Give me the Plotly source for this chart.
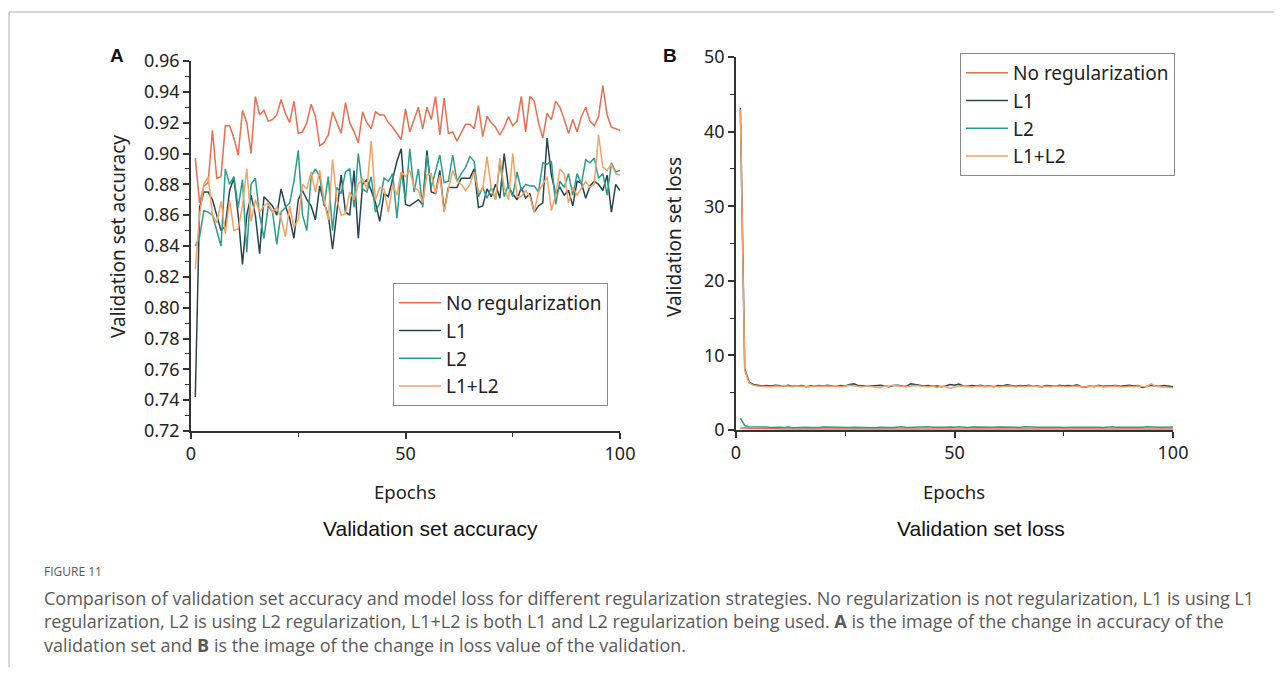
import plotly.graph_objects as go

# page body adds an 8px margin, so the figure is drawn 16px smaller than the window
PAGE_W, PAGE_H = 1282, 675
OFFSET = 8
W, H = PAGE_W - 2 * OFFSET, PAGE_H - 2 * OFFSET

COLORS = {
    'No regularization': '#E76F51',
    'L1': '#264653',
    'L2': '#2A9D8F',
    'L1+L2': '#F4A261',
}

epochs = list(range(1, 101))

acc_no_reg = [
    0.897, 0.868, 0.879, 0.881, 0.915, 0.884, 0.885, 0.918, 0.918, 0.910,
    0.899, 0.928, 0.920, 0.900, 0.937, 0.925, 0.928, 0.921, 0.922, 0.925,
    0.935, 0.926, 0.920, 0.934, 0.913, 0.914, 0.920, 0.932, 0.924, 0.905,
    0.907, 0.912, 0.927, 0.920, 0.913, 0.933, 0.920, 0.914, 0.907, 0.927,
    0.920, 0.916, 0.927, 0.925, 0.925, 0.920, 0.917, 0.913, 0.909, 0.929,
    0.914, 0.922, 0.930, 0.916, 0.930, 0.922, 0.937, 0.912, 0.936, 0.913,
    0.914, 0.908, 0.913, 0.919, 0.919, 0.916, 0.931, 0.911, 0.924, 0.920,
    0.917, 0.912, 0.917, 0.924, 0.918, 0.921, 0.937, 0.914, 0.937, 0.934,
    0.920, 0.910, 0.926, 0.922, 0.934, 0.930, 0.922, 0.913, 0.922, 0.914,
    0.924, 0.930, 0.921, 0.918, 0.924, 0.944, 0.925, 0.917, 0.916, 0.915,
]
acc_l1 = [
    0.742, 0.865, 0.875, 0.875, 0.870, 0.860, 0.850, 0.853, 0.876, 0.884,
    0.860, 0.828, 0.860, 0.873, 0.860, 0.835, 0.872, 0.869, 0.866, 0.860,
    0.877, 0.866, 0.858, 0.845, 0.870, 0.876, 0.870, 0.866, 0.857, 0.879,
    0.868, 0.860, 0.838, 0.862, 0.886, 0.862, 0.860, 0.889, 0.845, 0.880,
    0.883, 0.876, 0.868, 0.856, 0.874, 0.872, 0.884, 0.895, 0.903, 0.867,
    0.866, 0.868, 0.870, 0.867, 0.902, 0.875, 0.874, 0.889, 0.863, 0.878,
    0.878, 0.878, 0.884, 0.884, 0.884, 0.890, 0.865, 0.866, 0.877, 0.872,
    0.880, 0.871, 0.900, 0.878, 0.874, 0.870, 0.878, 0.871, 0.874, 0.862,
    0.866, 0.868, 0.910, 0.886, 0.874, 0.878, 0.873, 0.876, 0.866, 0.882,
    0.881, 0.871, 0.879, 0.882, 0.880, 0.876, 0.886, 0.862, 0.880, 0.876,
]
acc_l2 = [
    0.840, 0.846, 0.863, 0.862, 0.860, 0.850, 0.840, 0.890, 0.880, 0.885,
    0.865, 0.883, 0.836, 0.880, 0.884, 0.860, 0.845, 0.866, 0.862, 0.841,
    0.862, 0.865, 0.868, 0.882, 0.902, 0.860, 0.850, 0.885, 0.890, 0.885,
    0.866, 0.885, 0.850, 0.878, 0.874, 0.888, 0.890, 0.865, 0.900, 0.877,
    0.875, 0.885, 0.862, 0.868, 0.884, 0.882, 0.887, 0.858, 0.888, 0.870,
    0.903, 0.875, 0.890, 0.865, 0.899, 0.878, 0.888, 0.899, 0.881, 0.882,
    0.899, 0.882, 0.887, 0.891, 0.898, 0.895, 0.872, 0.878, 0.871, 0.878,
    0.870, 0.895, 0.872, 0.880, 0.872, 0.888, 0.876, 0.880, 0.879, 0.879,
    0.875, 0.894, 0.893, 0.895, 0.867, 0.882, 0.878, 0.887, 0.873, 0.887,
    0.880, 0.896, 0.894, 0.897, 0.884, 0.887, 0.873, 0.894, 0.888, 0.889,
]
acc_l1l2 = [
    0.825, 0.860, 0.880, 0.885, 0.860, 0.855, 0.869, 0.848, 0.870, 0.850,
    0.851, 0.866, 0.890, 0.856, 0.870, 0.862, 0.866, 0.868, 0.862, 0.865,
    0.858, 0.846, 0.866, 0.852, 0.857, 0.880, 0.877, 0.888, 0.875, 0.889,
    0.870, 0.857, 0.896, 0.870, 0.860, 0.861, 0.875, 0.870, 0.880, 0.884,
    0.877, 0.908, 0.870, 0.878, 0.877, 0.862, 0.880, 0.873, 0.888, 0.885,
    0.889, 0.878, 0.876, 0.868, 0.886, 0.887, 0.874, 0.886, 0.862, 0.877,
    0.889, 0.882, 0.880, 0.876, 0.880, 0.888, 0.875, 0.877, 0.898, 0.877,
    0.870, 0.897, 0.878, 0.870, 0.900, 0.872, 0.872, 0.876, 0.872, 0.862,
    0.875, 0.880, 0.885, 0.863, 0.873, 0.890, 0.887, 0.868, 0.878, 0.873,
    0.878, 0.882, 0.878, 0.880, 0.912, 0.891, 0.889, 0.893, 0.887, 0.886,
]

loss_no_reg = [
    0.25, 0.30, 0.22, 0.20, 0.18, 0.17, 0.16, 0.15, 0.16, 0.15,
    0.14, 0.15, 0.13, 0.14, 0.15, 0.13, 0.14, 0.12, 0.13, 0.14,
    0.13, 0.14, 0.12, 0.13, 0.14, 0.13, 0.12, 0.14, 0.13, 0.12,
    0.14, 0.13, 0.12, 0.13, 0.15, 0.13, 0.12, 0.13, 0.14, 0.12,
    0.13, 0.14, 0.12, 0.13, 0.12, 0.14, 0.13, 0.12, 0.13, 0.14,
    0.12, 0.13, 0.14, 0.12, 0.13, 0.12, 0.14, 0.13, 0.12, 0.13,
    0.14, 0.12, 0.13, 0.12, 0.14, 0.13, 0.12, 0.13, 0.14, 0.12,
    0.13, 0.14, 0.12, 0.13, 0.12, 0.14, 0.13, 0.12, 0.13, 0.14,
    0.12, 0.13, 0.14, 0.12, 0.13, 0.15, 0.13, 0.12, 0.13, 0.14,
    0.13, 0.12, 0.14, 0.13, 0.12, 0.13, 0.14, 0.12, 0.13, 0.12,
]
loss_l1 = [
    43.2, 8.2, 6.4, 6.1, 6.0, 5.9, 5.95, 5.9, 6.0, 5.95,
    5.9, 6.0, 5.85, 5.9, 5.95, 5.8, 5.9, 5.85, 5.95, 5.9,
    6.0, 5.9, 5.85, 5.95, 5.9, 6.1, 6.2, 5.95, 5.9, 5.85,
    5.9, 5.95, 6.0, 5.9, 5.8, 5.95, 6.0, 5.9, 5.85, 6.2,
    6.1, 6.0, 5.9, 5.95, 5.85, 5.9, 5.8, 5.9, 6.1, 6.0,
    6.15, 5.9, 5.85, 5.95, 5.9, 6.0, 5.85, 5.9, 5.8, 5.95,
    5.9, 6.05, 5.9, 5.85, 5.95, 5.9, 6.0, 5.85, 5.9, 5.8,
    5.95, 5.9, 5.85, 6.0, 5.9, 5.95, 5.9, 6.05, 5.8, 5.75,
    5.9, 5.8, 6.0, 5.85, 5.9, 6.0, 5.95, 5.85, 5.9, 6.0,
    5.9, 5.95, 5.7, 5.9, 6.0, 5.9, 5.85, 5.95, 5.9, 5.8,
]
loss_l2 = [
    1.6, 0.6, 0.45, 0.45, 0.5, 0.4, 0.4, 0.35, 0.4, 0.38,
    0.35, 0.4, 0.3, 0.35, 0.4, 0.38, 0.35, 0.3, 0.35, 0.4,
    0.38, 0.35, 0.4, 0.3, 0.35, 0.32, 0.38, 0.35, 0.4, 0.36,
    0.35, 0.3, 0.38, 0.4, 0.35, 0.33, 0.38, 0.42, 0.35, 0.38,
    0.4, 0.35, 0.38, 0.42, 0.36, 0.4, 0.35, 0.38, 0.4, 0.36,
    0.45, 0.38, 0.35, 0.4, 0.38, 0.35, 0.42, 0.38, 0.36, 0.4,
    0.38, 0.35, 0.4, 0.37, 0.35, 0.42, 0.38, 0.4, 0.36, 0.38,
    0.4, 0.36, 0.42, 0.38, 0.35, 0.4, 0.38, 0.36, 0.4, 0.38,
    0.36, 0.4, 0.38, 0.35, 0.4, 0.42, 0.38, 0.36, 0.4, 0.38,
    0.4, 0.38, 0.36, 0.42, 0.38, 0.4, 0.38, 0.36, 0.4, 0.4,
]
loss_l1l2 = [
    43.0, 8.0, 6.3, 6.0, 5.9, 5.85, 5.9, 5.8, 5.9, 5.85,
    5.95, 5.85, 5.8, 5.9, 5.85, 5.9, 5.8, 5.85, 5.9, 5.85,
    5.9, 5.85, 5.9, 5.8, 5.85, 6.0, 5.9, 5.85, 5.8, 5.9,
    5.85, 5.8, 5.65, 5.9, 5.85, 6.0, 5.9, 5.85, 5.8, 5.9,
    5.95, 5.9, 5.85, 5.8, 5.9, 5.7, 5.85, 5.8, 5.6, 5.8,
    5.9, 5.85, 5.8, 5.75, 5.85, 5.9, 5.8, 5.85, 5.9, 5.8,
    5.85, 5.8, 5.9, 5.75, 5.85, 5.8, 5.9, 5.85, 5.8, 5.75,
    5.85, 5.8, 5.9, 5.85, 5.75, 5.8, 5.85, 5.9, 5.8, 5.85,
    5.8, 5.85, 5.9, 5.75, 5.8, 5.85, 5.9, 5.8, 5.75, 5.85,
    5.8, 5.9, 5.85, 5.8, 6.2, 5.85, 5.8, 5.75, 5.7, 5.65,
]

CHART_FONT = 'Noto Sans'
AXIS_COLOR = '#333333'
CAPTION_COLOR = '#5a5a5a'
CAPTION_FONT = 'Open Sans'


def px_x(x):
    return min(max((x - OFFSET) / W, 0), 1)


def px_y(y):
    return min(max(1 - (y - OFFSET) / H, 0), 1)


def line_trace(y, name, xaxis, yaxis, legend):
    return go.Scatter(
        x=epochs,
        y=y,
        name=name,
        mode='lines',
        line={'color': COLORS[name], 'width': 1.5},
        xaxis=xaxis,
        yaxis=yaxis,
        legend=legend,
    )


def axis_style(domain, rng, dtick, minor_dtick, anchor, tickformat=None):
    style = dict(
        domain=domain,
        range=rng,
        dtick=dtick,
        tick0=rng[0],
        showgrid=False,
        zeroline=False,
        showline=True,
        linecolor=AXIS_COLOR,
        linewidth=1.5,
        ticks='outside',
        ticklen=6,
        tickwidth=1.5,
        tickcolor=AXIS_COLOR,
        tickfont={'family': CHART_FONT, 'size': 18, 'color': '#222'},
        minor={'dtick': minor_dtick, 'ticks': 'outside', 'ticklen': 4,
               'tickwidth': 1.2, 'tickcolor': AXIS_COLOR},
        anchor=anchor,
        automargin=False,
        fixedrange=True,
    )
    if tickformat:
        style['tickformat'] = tickformat
    return style


data = [
    line_trace(acc_no_reg, 'No regularization', 'x', 'y', 'legend'),
    line_trace(acc_l1, 'L1', 'x', 'y', 'legend'),
    line_trace(acc_l2, 'L2', 'x', 'y', 'legend'),
    line_trace(acc_l1l2, 'L1+L2', 'x', 'y', 'legend'),
    line_trace(loss_no_reg, 'No regularization', 'x2', 'y2', 'legend2'),
    line_trace(loss_l1, 'L1', 'x2', 'y2', 'legend2'),
    line_trace(loss_l2, 'L2', 'x2', 'y2', 'legend2'),
    line_trace(loss_l1l2, 'L1+L2', 'x2', 'y2', 'legend2'),
]

fig = go.Figure(data=data)

legend_style = dict(
    xanchor='left',
    yanchor='top',
    bgcolor='white',
    bordercolor='#8a8a8a',
    borderwidth=1,
    font={'family': CHART_FONT, 'size': 19, 'color': '#222'},
    tracegroupgap=0,
    itemwidth=42,
)

annotations = [
    dict(x=px_x(117), y=px_y(55), text='<b>A</b>',
         font={'family': 'Liberation Sans', 'size': 19, 'color': '#111'}),
    dict(x=px_x(670), y=px_y(55), text='<b>B</b>',
         font={'family': 'Liberation Sans', 'size': 19, 'color': '#111'}),
    dict(x=px_x(118), y=px_y(237), text='Validation set accuracy', textangle=-90,
         font={'family': CHART_FONT, 'size': 19, 'color': '#222'}),
    dict(x=px_x(674), y=px_y(237), text='Validation set loss', textangle=-90,
         font={'family': CHART_FONT, 'size': 19, 'color': '#222'}),
    dict(x=px_x(405), y=px_y(491), text='Epochs',
         font={'family': CHART_FONT, 'size': 18.5, 'color': '#222'}),
    dict(x=px_x(954), y=px_y(491), text='Epochs',
         font={'family': CHART_FONT, 'size': 18.5, 'color': '#222'}),
    dict(x=px_x(430), y=px_y(528), text='Validation set accuracy',
         font={'family': 'Liberation Sans', 'size': 21, 'color': '#111'}),
    dict(x=px_x(981), y=px_y(528), text='Validation set loss',
         font={'family': 'Liberation Sans', 'size': 21, 'color': '#111'}),
    dict(x=px_x(42), y=px_y(571), text='FIGURE 11', xanchor='left',
         font={'family': CAPTION_FONT, 'size': 12, 'color': CAPTION_COLOR}),
    dict(x=px_x(42), y=px_y(598), xanchor='left',
         text='Comparison of validation set accuracy and model loss for different regularization '
              'strategies. No regularization is not regularization, L1 is using L1',
         font={'family': CAPTION_FONT, 'size': 18, 'color': CAPTION_COLOR}),
    dict(x=px_x(42), y=px_y(621), xanchor='left',
         text='regularization, L2 is using L2 regularization, L1+L2 is both L1 and L2 regularization '
              'being used. <b>A</b> is the image of the change in accuracy of the',
         font={'family': CAPTION_FONT, 'size': 18, 'color': CAPTION_COLOR}),
    dict(x=px_x(42), y=px_y(645), xanchor='left',
         text='validation set and <b>B</b> is the image of the change in loss value of the validation.',
         font={'family': CAPTION_FONT, 'size': 18, 'color': CAPTION_COLOR}),
]
for a in annotations:
    a.update(xref='paper', yref='paper', showarrow=False)
    a.setdefault('xanchor', 'center')
    a.setdefault('yanchor', 'middle')

fig.update_layout(
    width=W,
    height=H,
    margin={'l': 0, 'r': 0, 't': 0, 'b': 0},
    paper_bgcolor='white',
    plot_bgcolor='white',
    showlegend=True,
    xaxis=axis_style([px_x(191), px_x(620)], [0, 100], 50, 25, 'y'),
    yaxis=axis_style([px_y(431), px_y(61)], [0.72, 0.96], 0.02, 0.01, 'x', '.2f'),
    xaxis2=axis_style([px_x(736), px_x(1173)], [0, 100], 50, 25, 'y2'),
    yaxis2=axis_style([px_y(430), px_y(57)], [0, 50], 10, 5, 'x2'),
    legend=dict(x=px_x(393), y=px_y(283), **legend_style),
    legend2=dict(x=px_x(960), y=px_y(53), **legend_style),
    annotations=annotations,
    shapes=[
        dict(type='line', xref='paper', yref='paper', x0=0.0008, x1=1,
             y0=px_y(12), y1=px_y(12), line={'color': '#c8c8c8', 'width': 1.5}),
        dict(type='line', xref='paper', yref='paper', x0=0.0008, x1=0.0008,
             y0=px_y(12), y1=0, line={'color': '#c8c8c8', 'width': 1.5}),
    ],
)

fig.write_html("out.html")
